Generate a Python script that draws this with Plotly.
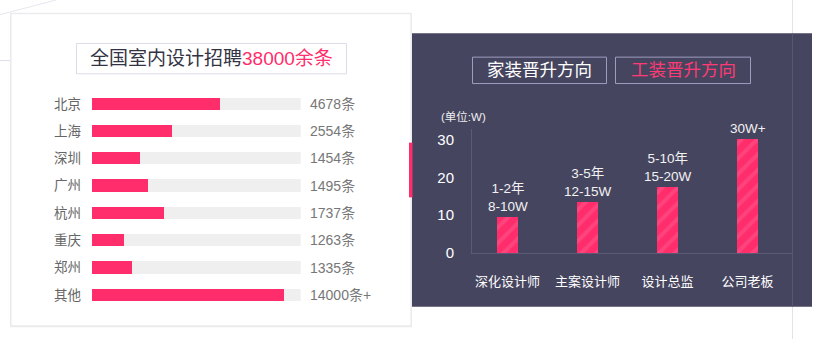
import plotly.graph_objects as go

W, H = 822, 348
def X(px): return px / W
def Y(py): return 1 - py / H

PINK = "#ff2d6b"
PANEL = "#46455f"
FONT = "Liberation Sans, Noto Sans CJK SC, sans-serif"

# ---- left chart data ----
cities = ["北京", "上海", "深圳", "广州", "杭州", "重庆", "郑州", "其他"]
job_counts = ["4678条", "2554条", "1454条", "1495条", "1737条", "1263条", "1335条", "14000条+"]
bar_percent = [61.3, 38.3, 23.0, 26.8, 34.5, 15.3, 19.2, 92.1]  # bar fill
track_full = [100] * len(cities)

# ---- right chart data ----
roles = ["深化设计师", "主案设计师", "设计总监", "公司老板"]
salary_values = [9.5, 13.5, 17.5, 30]
bar_labels = ["1-2年<br>8-10W", "3-5年<br>12-15W", "5-10年<br>15-20W", "30W+"]
y_ticks = [0, 10, 20, 30]

fig = go.Figure()

fig.add_trace(go.Bar(x=track_full, y=cities, orientation="h", marker=dict(color="#efefef", line=dict(width=0)),
                     width=0.45, xaxis="x", yaxis="y", hoverinfo="skip", showlegend=False))
fig.add_trace(go.Bar(x=bar_percent, y=cities, orientation="h", marker=dict(color=PINK, line=dict(width=0)),
                     width=0.45, xaxis="x", yaxis="y", showlegend=False))

fig.add_trace(go.Bar(x=roles, y=salary_values, width=0.26, xaxis="x2", yaxis="y2", showlegend=False,
                     marker=dict(color=PINK, line=dict(width=0),
                                 pattern=dict(shape="/", bgcolor=PINK, fgcolor="#ff5c8f", size=11,
                                              solidity=0.35, fillmode="overlay"))))

shapes = []
shapes.append(dict(type="line", xref="paper", yref="paper", x0=X(0), y0=Y(15), x1=X(56), y1=Y(0),
                   line=dict(color="#e6e6f0", width=1), layer="below"))
shapes.append(dict(type="line", xref="paper", yref="paper", x0=X(0), y0=Y(62), x1=X(76), y1=Y(62),
                   line=dict(color="#dedeea", width=1), layer="below"))
shapes.append(dict(type="rect", xref="paper", yref="paper", x0=X(10), y0=Y(335), x1=X(412), y1=Y(13),
                   fillcolor="#ececec", line=dict(width=0), layer="below"))
shapes.append(dict(type="rect", xref="paper", yref="paper", x0=X(11), y0=Y(333.5), x1=X(411), y1=Y(14),
                   fillcolor="#ffffff", line=dict(color="#e9e9ee", width=1), layer="below"))
shapes.append(dict(type="rect", xref="paper", yref="paper", x0=X(76.5), y0=Y(75.5), x1=X(346.5), y1=Y(44.5),
                   fillcolor="rgba(0,0,0,0)", line=dict(color="#dcdbea", width=1), layer="below"))
shapes.append(dict(type="rect", xref="paper", yref="paper", x0=X(412), y0=Y(314), x1=X(812), y1=Y(34),
                   fillcolor=PANEL, line=dict(width=0), layer="below"))
shapes.append(dict(type="line", xref="paper", yref="paper", x0=X(792.5), y0=Y(0), x1=X(792.5), y1=Y(34),
                   line=dict(color="#e3e3e6", width=1), layer="below"))
shapes.append(dict(type="line", xref="paper", yref="paper", x0=X(792.5), y0=Y(314), x1=X(792.5), y1=Y(347),
                   line=dict(color="#e3e3e6", width=1), layer="below"))
shapes.append(dict(type="line", xref="paper", yref="paper", x0=X(792.5), y0=Y(34), x1=X(792.5), y1=Y(314),
                   line=dict(color="#58576f", width=1), layer="below"))
shapes.append(dict(type="rect", xref="paper", yref="paper", x0=X(409), y0=Y(202), x1=X(412.5), y1=Y(146),
                   fillcolor=PINK, line=dict(width=0), layer="below"))
shapes.append(dict(type="rect", xref="paper", yref="paper", x0=X(472.5), y0=Y(85.5), x1=X(606.5), y1=Y(58.5),
                   fillcolor="rgba(0,0,0,0)", line=dict(color="#9e9cbf", width=1), layer="below"))
shapes.append(dict(type="rect", xref="paper", yref="paper", x0=X(615.5), y0=Y(85.5), x1=X(750.5), y1=Y(58.5),
                   fillcolor="rgba(0,0,0,0)", line=dict(color="#9e9cbf", width=1), layer="below"))

annotations = []
annotations.append(dict(xref="paper", yref="paper", x=X(211.5), y=Y(60), xanchor="center", yanchor="middle",
                        showarrow=False,
                        text="<span style='color:#333344'>全国室内设计招聘</span><span style='color:%s'>38000余条</span>" % PINK,
                        font=dict(size=19, family=FONT)))
for c, t in zip(cities, job_counts):
    annotations.append(dict(xref="x", yref="y", x=100, y=c, xanchor="left", yanchor="middle", xshift=7,
                            showarrow=False, text=t, font=dict(size=14, color="#777777", family=FONT)))

annotations.append(dict(xref="paper", yref="paper", x=X(539.5), y=Y(72), xanchor="center", yanchor="middle",
                        showarrow=False, text="家装晋升方向", font=dict(size=17.5, color="#ffffff", family=FONT)))
annotations.append(dict(xref="paper", yref="paper", x=X(683), y=Y(72), xanchor="center", yanchor="middle",
                        showarrow=False, text="工装晋升方向", font=dict(size=17.5, color="#ff3a74", family=FONT)))
annotations.append(dict(xref="paper", yref="paper", x=X(439), y=Y(119), xanchor="left", yanchor="middle",
                        showarrow=False, text="(单位:W)", font=dict(size=11.5, color="#eeeeee", family=FONT)))
for r, v, lab in zip(roles, salary_values, bar_labels):
    annotations.append(dict(xref="x2", yref="y2", x=r, y=v, xanchor="center", yanchor="bottom", yshift=1,
                            showarrow=False, text=lab, font=dict(size=13.5, color="#f2f2f2", family=FONT)))

fig.update_layout(
    width=W, height=H, autosize=False, margin=dict(l=0, r=0, t=0, b=0, pad=0),
    paper_bgcolor="#ffffff", plot_bgcolor="rgba(0,0,0,0)",
    barmode="overlay", bargap=0, font=dict(family=FONT),
    shapes=shapes, annotations=annotations, showlegend=False,
    xaxis=dict(domain=[X(92), X(300.7)], range=[0, 100], visible=False, fixedrange=True),
    yaxis=dict(domain=[Y(315.8), Y(92.3)], type="category", categoryorder="array", categoryarray=cities,
               range=[7.5, -0.5], showgrid=False, zeroline=False, showline=False, ticks="",
               ticklabelstandoff=10, tickfont=dict(size=13.5, color="#666666", family=FONT)),
    xaxis2=dict(domain=[X(472), X(792)], range=[-0.444, 3.556], type="category", anchor="y2",
                showgrid=False, zeroline=False, showline=True, linecolor="#5c5b77", linewidth=1, ticks="",
                ticklabelstandoff=16, tickfont=dict(size=13, color="#ffffff", family=FONT)),
    yaxis2=dict(domain=[Y(259), Y(132)], range=[0, 32.76], anchor="x2", tickvals=y_ticks,
                showgrid=False, zeroline=False, showline=True, linecolor="#5c5b77", linewidth=1, ticks="",
                ticklabelstandoff=14, tickfont=dict(size=15, color="#ffffff", family=FONT)),
)

fig.write_html("out.html", config={"responsive": False})
